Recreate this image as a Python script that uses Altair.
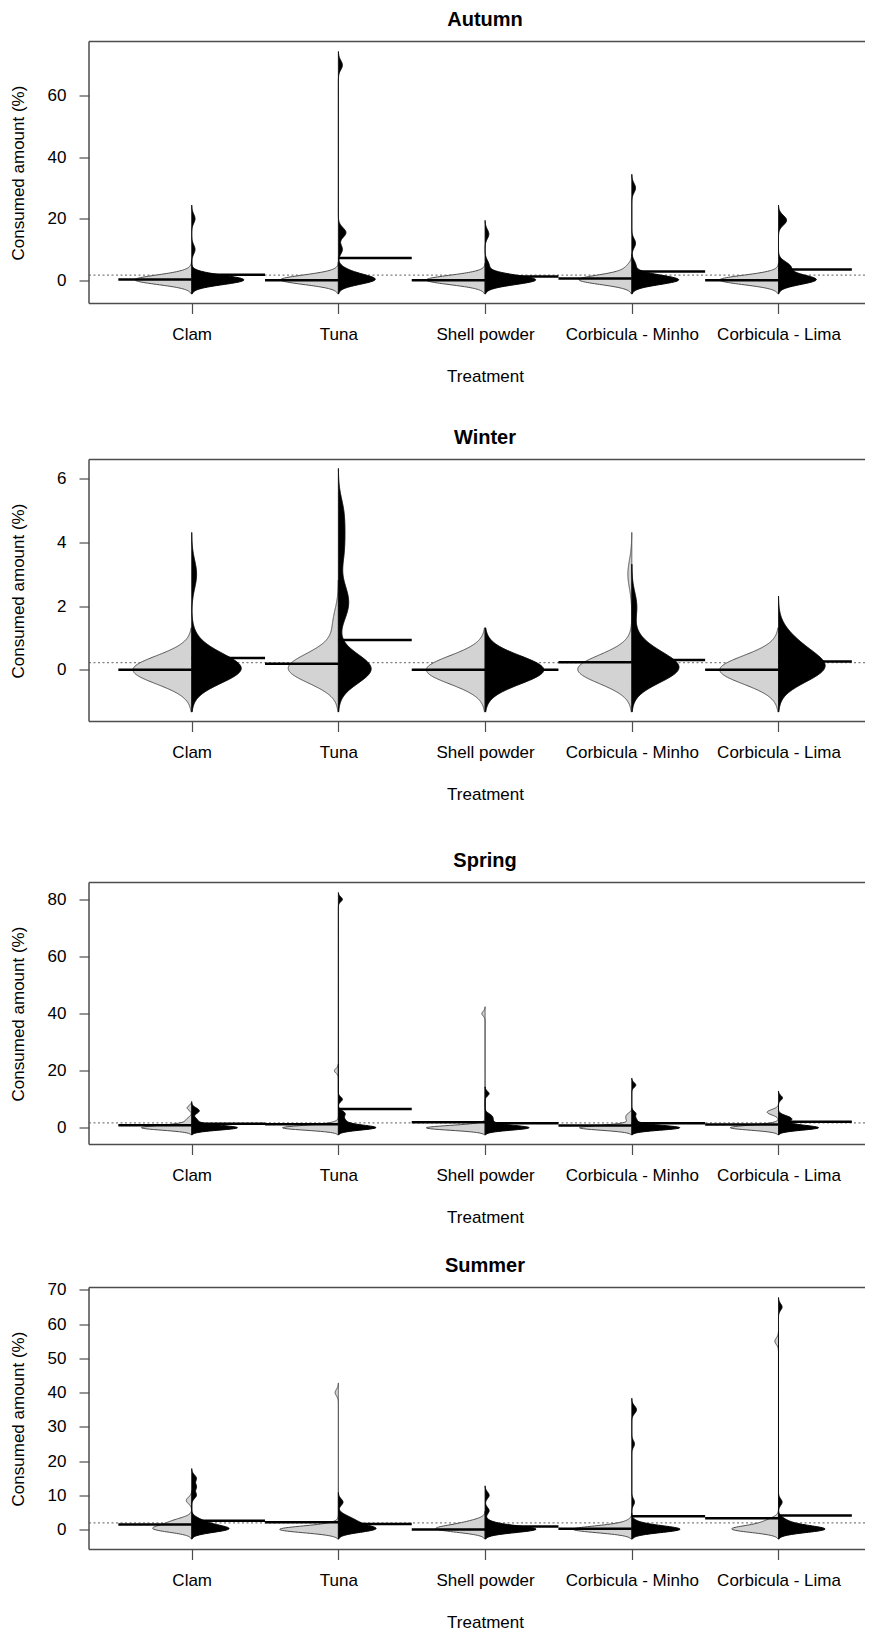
import altair as alt
import pandas as pd

TREATMENTS = ["Clam", "Tuna", "Shell powder", "Corbicula - Minho", "Corbicula - Lima"]
SEASONS = ["Autumn", "Winter", "Spring", "Summer"]

# Estimated observations (%), left = grey half, right = black half, one list per treatment
AUTUMN_LEFT = [
    [0, 0, 0, 0, 0, 0, 0, 0, 0, 0, 0.5, 2.0],
    [0, 0, 0, 0, 0, 0, 0, 0, 0, 0, 0.5, 1.5],
    [0, 0, 0, 0, 0, 0, 0, 0, 0, 0, 0, 1.0],
    [0, 0, 0, 0, 0, 0, 0, 0, 0, 0.5, 1.5, 4.0],
    [0, 0, 0, 0, 0, 0, 0, 0, 0, 0, 0, 1.0],
]
AUTUMN_RIGHT = [
    [0, 0, 0, 0, 0, 0, 0, 0, 0, 0, 0, 0, 0, 0, 0.5, 1.0, 10, 20],
    [0, 0, 0, 0, 0, 0, 0, 0.5, 1.0, 2.5, 3.0, 10, 15, 16, 70],
    [0, 0, 0, 0, 0, 0, 0, 0, 0, 0, 0, 0, 0.5, 1.5, 5, 15],
    [0, 0, 0, 0, 0, 0, 0, 0, 0, 0, 0, 0.5, 1.5, 5, 12, 30],
    [0, 0, 0, 0, 0, 0, 0, 0.5, 1.0, 3.5, 4.5, 5, 19, 20],
]
WINTER_LEFT = [
    [0, 0, 0, 0, 0, 0, 0, 0, 0, 0, 0, 0],
    [0, 0, 0, 0, 0, 0, 0, 0, 0, 0.3, 0.6, 1.5],
    [0, 0, 0, 0, 0, 0, 0, 0, 0, 0, 0, 0],
    [0, 0, 0, 0, 0, 0, 0, 0, 0, 0, 0, 0, 0, 0.3, 3.0],
    [0, 0, 0, 0, 0, 0, 0, 0, 0, 0, 0, 0],
]
WINTER_RIGHT = [
    [0, 0, 0, 0, 0, 0, 0, 0, 0, 0.3, 0.7, 3.0],
    [0, 0, 0, 0, 0, 0, 0, 0.3, 1.8, 2.1, 2.5, 3.6, 4.3, 5.0],
    [0, 0, 0, 0, 0, 0, 0, 0, 0, 0, 0, 0],
    [0, 0, 0, 0, 0, 0, 0, 0, 0.3, 0.5, 0.8, 2.0],
    [0, 0, 0, 0, 0, 0, 0, 0.2, 0.4, 0.6, 0.8, 1.0],
]
SPRING_LEFT = [
    [0, 0, 0, 0, 0, 0, 0, 0, 0, 0, 0.5, 1.5, 3.0, 7.0],
    [0, 0, 0, 0, 0, 0, 0, 0, 0, 0, 0, 0, 0, 0.5, 1.5, 20],
    [0, 0, 0, 0, 0, 0, 0, 0, 0, 0, 0, 0, 0, 0, 0, 0, 0, 0, 1.0, 40],
    [0, 0, 0, 0, 0, 0, 0, 0, 0, 0, 0, 1.0, 3.0, 4.5],
    [0, 0, 0, 0, 0, 0, 0, 0, 0, 0, 0.5, 1.0, 5.0, 5.5, 6.0],
]
SPRING_RIGHT = [
    [0, 0, 0, 0, 0, 0, 0, 0, 0, 0.5, 1.5, 3.0, 5.5, 6.5],
    [0, 0, 0, 0, 0, 0, 0, 0, 0.5, 1.0, 2.0, 3.0, 4.5, 5.5, 10, 80],
    [0, 0, 0, 0, 0, 0, 0, 0, 0, 0, 0.5, 1.5, 2.5, 3.5, 4.5, 12],
    [0, 0, 0, 0, 0, 0, 0, 0, 0, 0, 0, 0.5, 1.5, 3.0, 5.0, 15],
    [0, 0, 0, 0, 0, 0, 0, 0, 0, 0.5, 1.5, 2.5, 3.0, 3.5, 4.0, 10.5],
]
SUMMER_LEFT = [
    [0, 0, 0, 0, 0, 0.5, 1.0, 1.5, 2.0, 2.5, 3.0, 8.5],
    [0, 0, 0, 0, 0, 0, 0, 0, 0, 0, 0, 0, 0, 0, 0, 0, 0, 0.5, 1.5, 40],
    [0, 0, 0, 0, 0, 0, 0.3, 0.6, 1.0, 1.5, 2.0, 2.5],
    [0, 0, 0, 0, 0, 0, 0, 0, 0, 0, 0, 0, 1.0, 2.0],
    [0, 0, 0, 0, 0, 0, 0, 0, 0, 0, 0.3, 0.5, 1.0, 1.5, 2.0, 2.5, 3.0, 55],
]
SUMMER_RIGHT = [
    [0, 0, 0, 0, 0, 0, 0.5, 1.0, 1.5, 2.0, 3.0, 10, 12.5, 15],
    [0, 0, 0, 0, 0, 0, 0.5, 1.0, 1.5, 2.0, 2.5, 3.0, 4.0, 8.0],
    [0, 0, 0, 0, 0, 0, 0, 0, 0, 0, 0, 0.5, 1.0, 2.0, 5.5, 10],
    [0, 0, 0, 0, 0, 0, 0, 0, 0, 0, 0, 0, 0, 0, 0, 0, 0.5, 1.0, 1.5, 2.0, 8.0, 25, 34.5, 35.5],
    [0, 0, 0, 0, 0, 0, 0, 0, 0, 0, 0, 0.5, 1.0, 1.5, 2.0, 3.0, 8.0, 65],
]

# Bean lines (group means)
AUTUMN_MEAN_LEFT = [0.2, 0.0, 0.0, 0.5, 0.0]
AUTUMN_MEAN_RIGHT = [1.73, 7.2, 1.2, 2.8, 3.5]
WINTER_MEAN_LEFT = [0.0, 0.19, 0.0, 0.24, 0.0]
WINTER_MEAN_RIGHT = [0.37, 0.94, 0.0, 0.31, 0.26]
SPRING_MEAN_LEFT = [0.95, 1.3, 2.0, 0.83, 1.2]
SPRING_MEAN_RIGHT = [1.5, 6.6, 1.65, 1.65, 2.2]
SUMMER_MEAN_LEFT = [1.45, 2.1, 0.0, 0.2, 3.3]
SUMMER_MEAN_RIGHT = [2.6, 1.6, 0.9, 3.9, 4.1]
OVERALL_MEAN = [1.63, 0.23, 1.75, 1.92]

Y_TICKS = [[0, 20, 40, 60], [0, 2, 4, 6], [0, 20, 40, 60, 80],
           [0, 10, 20, 30, 40, 50, 60, 70]]
Y_DOMAINS = [[-7.6, 77.7], [-1.62, 6.6], [-5.8, 85.9], [-5.83, 70.7]]
BANDWIDTH = [1.5, 0.44, 0.82, 0.95]

LEFT = [AUTUMN_LEFT, WINTER_LEFT, SPRING_LEFT, SUMMER_LEFT]
RIGHT = [AUTUMN_RIGHT, WINTER_RIGHT, SPRING_RIGHT, SUMMER_RIGHT]
MEAN_LEFT = [AUTUMN_MEAN_LEFT, WINTER_MEAN_LEFT, SPRING_MEAN_LEFT, SUMMER_MEAN_LEFT]
MEAN_RIGHT = [AUTUMN_MEAN_RIGHT, WINTER_MEAN_RIGHT, SPRING_MEAN_RIGHT, SUMMER_MEAN_RIGHT]

FONT = "Liberation Sans"
FS = 17
W, H = 776, 262
PX_PER_UNIT = 146.7
X_DOMAIN = [0.3, 0.3 + W / PX_PER_UNIT]
HALF = 0.4
GAPS = [123.8, 128.8, 110.8, None]
FRAME = "#4d4d4d"
LABEL_EXPR = "[" + ",".join("'" + t + "'" for t in TREATMENTS) + "][datum.value - 1]"


def panel(i):
    rows = []
    for side, groups in ((-1, LEFT[i]), (1, RIGHT[i])):
        for t, vals in enumerate(groups):
            for v in vals:
                rows.append({"ti": t + 1, "side": side, "v": v})
    df = pd.DataFrame(rows)
    bw = BANDWIDTH[i]
    lo, hi = Y_DOMAINS[i]
    xs = alt.Scale(domain=X_DOMAIN, nice=False, zero=False)
    ys = alt.Scale(domain=[lo, hi], nice=False, zero=False)
    x_axis = alt.Axis(values=[1, 2, 3, 4, 5], labelExpr=LABEL_EXPR, title="Treatment",
                      grid=False, domain=False, tickSize=10, tickColor=FRAME,
                      tickWidth=1.2, labelFontSize=FS, labelFont=FONT, labelColor="black",
                      labelPadding=13.3, labelFlush=False, labelOverlap=False,
                      titleFontSize=FS, titleFont=FONT, titleFontWeight="normal",
                      titleColor="black", titlePadding=26, titleX=396)
    y_axis = alt.Axis(values=Y_TICKS[i], title="Consumed amount (%)", grid=False,
                      domain=False, tickSize=10, tickColor=FRAME, tickWidth=1.2,
                      labelFontSize=FS, labelFont=FONT, labelColor="black",
                      labelPadding=13, minExtent=41, maxExtent=41,
                      titleFontSize=FS, titleFont=FONT, titleFontWeight="normal",
                      titleColor="black", titlePadding=20.2)

    base = alt.Chart(df).transform_joinaggregate(
        gmin="min(v)", gmax="max(v)", groupby=["ti", "side"]
    ).transform_density(
        "v", as_=["value", "density"], groupby=["ti", "side", "gmin", "gmax"],
        bandwidth=bw, extent=[lo, hi], steps=700
    ).transform_filter(
        f"datum.value >= datum.gmin - {3 * bw} && datum.value <= datum.gmax + {3 * bw}"
    ).transform_joinaggregate(
        maxd="max(density)"
    ).transform_calculate(
        xpos=f"datum.ti + datum.side * datum.density / datum.maxd * {HALF}"
    )

    enc = dict(
        y=alt.Y("value:Q", scale=ys, axis=y_axis),
        x=alt.X("xpos:Q", scale=xs, axis=x_axis),
        x2=alt.X2("ti"),
        detail="ti:N",
    )
    grey = base.transform_filter("datum.side < 0").mark_area(
        orient="horizontal", fill="#d3d3d3", stroke="#4d4d4d", strokeWidth=1
    ).encode(**enc)
    black = base.transform_filter("datum.side > 0").mark_area(
        orient="horizontal", fill="black", stroke="black", strokeWidth=1
    ).encode(**enc)

    mdf = pd.DataFrame({
        "ti": [1, 2, 3, 4, 5, 1, 2, 3, 4, 5],
        "side": [-1] * 5 + [1] * 5,
        "m": MEAN_LEFT[i] + MEAN_RIGHT[i],
    })
    lines = alt.Chart(mdf).transform_calculate(
        xe="datum.ti + datum.side * 0.5"
    ).mark_rule(color="black", strokeWidth=2.5).encode(
        x=alt.X("ti:Q", scale=xs, axis=x_axis),
        x2=alt.X2("xe:Q"),
        y=alt.Y("m:Q", scale=ys, axis=y_axis),
    )
    dotted = alt.Chart(pd.DataFrame({"m": [OVERALL_MEAN[i]]})).mark_rule(
        color="#7f7f7f", strokeDash=[2, 2.5], strokeWidth=1.3
    ).encode(
        y=alt.Y("m:Q", scale=ys, axis=y_axis),
        x=alt.value(0), x2=alt.value(W),
    )
    one = pd.DataFrame({"a": [0]})
    frame_top = alt.Chart(one).mark_rule(color=FRAME, strokeWidth=1.5).encode(
        x=alt.value(0), x2=alt.value(W), y=alt.value(0))
    frame_bottom = alt.Chart(one).mark_rule(color=FRAME, strokeWidth=1.5).encode(
        x=alt.value(0), x2=alt.value(W), y=alt.value(H))
    frame_left = alt.Chart(one).mark_rule(color=FRAME, strokeWidth=1.5).encode(
        x=alt.value(0), y=alt.value(0), y2=alt.value(H))
    title = alt.Chart(pd.DataFrame({"t": [SEASONS[i]]})).mark_text(
        fontSize=20, fontWeight="bold", font=FONT, color="black",
        baseline="middle", align="center"
    ).encode(text="t:N", x=alt.value(396), y=alt.value(-21.5))
    layers = [dotted, grey, black, lines, frame_top, frame_bottom, frame_left, title]
    if GAPS[i] is not None:
        spacer = alt.Chart(one).mark_rule(
            color="white", opacity=0, strokeWidth=1
        ).encode(x=alt.value(0), x2=alt.value(1), y=alt.value(H + GAPS[i]))
        layers.append(spacer)
    return alt.layer(*layers).properties(width=W, height=H)


chart = alt.vconcat(*[panel(i) for i in range(4)], spacing=0).resolve_scale(
    x="independent", y="independent"
).properties(
    padding={"left": 1, "top": 1.5, "right": 0, "bottom": 0}
).configure(
    font=FONT
).configure_view(
    stroke="transparent", strokeWidth=0
)

chart.save("out.html", embed_options={"renderer": "svg", "actions": False})
